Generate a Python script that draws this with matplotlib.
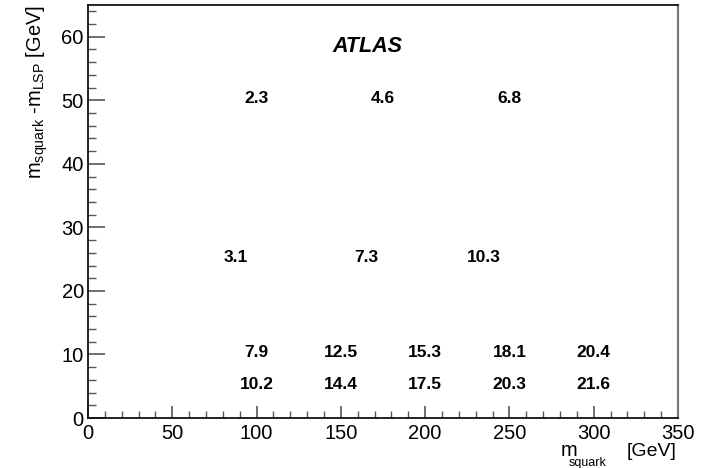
import matplotlib
matplotlib.use("Agg")
import matplotlib.pyplot as plt
from matplotlib.ticker import MultipleLocator

plt.rcParams['font.family'] = ['Liberation Sans', 'DejaVu Sans']
plt.rcParams['mathtext.fontset'] = 'custom'
plt.rcParams['mathtext.rm'] = 'Liberation Sans'
plt.rcParams['mathtext.it'] = 'Liberation Sans:italic'

# grid points (m_squark, delta m) and the numbers written at them
m_squark = [100, 175, 250,
            87.5, 165, 235,
            100, 150, 200, 250, 300,
            100, 150, 200, 250, 300]
delta_m = [50, 50, 50,
           25, 25, 25,
           10, 10, 10, 10, 10,
           5, 5, 5, 5, 5]
values = ['2.3', '4.6', '6.8',
          '3.1', '7.3', '10.3',
          '7.9', '12.5', '15.3', '18.1', '20.4',
          '10.2', '14.4', '17.5', '20.3', '21.6']

W, H = 706, 468
fig = plt.figure(figsize=(W/100, H/100), dpi=100)
ax = fig.add_axes([88/W, 50/H, 590/W, 413/H])

def px(x, y):
    # pixel position (from top left) -> figure fraction
    return x / W, 1 - y / H

ax.set_xlim(0, 350)
ax.set_ylim(0, 65)

for x, y, s in zip(m_squark, delta_m, values):
    ax.annotate(s, (x, y), xytext=(0, 1.5), textcoords='offset points',
                ha='center', va='center', fontsize=12.5, fontweight='bold')

ax.text(166, 58.4, 'ATLAS', ha='center', va='center', fontsize=15.5,
        fontweight='bold', fontstyle='italic')

# ROOT-like frame and ticks
ax.xaxis.set_major_locator(MultipleLocator(50))
ax.xaxis.set_minor_locator(MultipleLocator(10))
ax.yaxis.set_major_locator(MultipleLocator(10))
ax.yaxis.set_minor_locator(MultipleLocator(2))
ax.tick_params(which='both', direction='in', labelsize=14.5, color='#555555')
ax.tick_params(axis='y', which='major', length=12, width=1.2, pad=3)
ax.tick_params(axis='y', which='minor', length=6, width=1.0)
ax.tick_params(axis='x', which='major', length=9, width=1.2, pad=4)
ax.tick_params(axis='x', which='minor', length=5, width=1.0)
ax.xaxis.set_ticks_position('bottom')
ax.yaxis.set_ticks_position('left')
for side in ['left', 'bottom', 'top']:
    ax.spines[side].set_linewidth(1.3)
    ax.spines[side].set_color('#111111')
ax.spines['right'].set_linewidth(1.6)
ax.spines['right'].set_color('#777777')

# x axis title, ROOT style with a low subscript
fig.text(*px(561, 456), 'm', fontsize=14.5, ha='left', va='baseline')
fig.text(*px(569, 466), 'squark', fontsize=9, ha='left', va='baseline')
fig.text(*px(677, 456), '[GeV]', fontsize=14, ha='right', va='baseline')

ax.set_ylabel(r'm$_{\mathrm{squark}}$ -m$_{\mathrm{LSP}}$ [GeV]', fontsize=14.5,
              loc='top', labelpad=8)

fig.savefig('out.png', dpi=100)
